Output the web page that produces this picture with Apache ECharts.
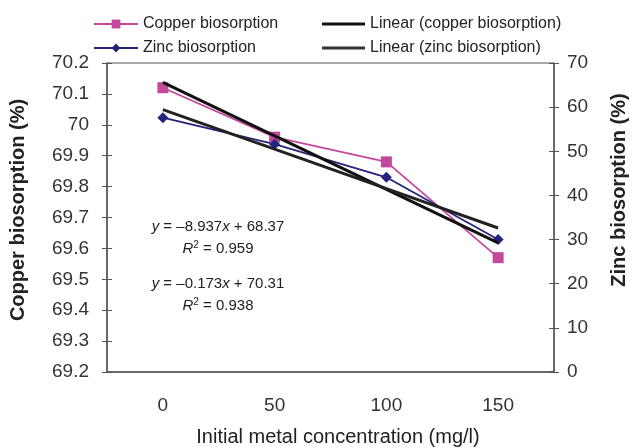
<!DOCTYPE html>
<html>
<head>
<meta charset="utf-8">
<script src="https://cdn.jsdelivr.net/npm/echarts@6/dist/echarts.min.js"></script>
<style>
  html, body { margin: 0; padding: 0; background: #fff; }
  #main { width: 632px; height: 448px; }
</style>
</head>
<body>
<div id="main"></div>
<script>
// concentrations (mg/l)
var categories = ['0', '50', '100', '150'];
// measured biosorption (%)
var copper = [70.12, 69.96, 69.88, 69.57];
var zinc = [57.6, 51.6, 44.1, 30.0];
// linear trend values at each concentration
var copperTrend = [70.137, 69.964, 69.791, 69.618];
var zincTrend = [59.43, 50.50, 41.56, 32.62];
// equation labels
var zincEq = ['y = \u20138.937x + 68.37', 'R2 = 0.959'];
var copperEq = ['y = \u20130.173x + 70.31', 'R2 = 0.938'];

var font = 'Liberation Sans, Arial, sans-serif';
var axisCol = '#555';
var lineIcon = 'path://M0,0L40,0L40,3L0,3Z';

function eqLine1(s) {
  return s.replace(/^y/, '{i|y}').replace('x', '{i|x}');
}
function eqLine2(s) {
  return s.replace(/^R2/, '{i|R}{s|2}');
}
var eqRich = {
  i: { fontStyle: 'italic', fontSize: 15, fontFamily: font },
  s: { fontSize: 10, verticalAlign: 'top', padding: [0, 0, 7, 0], fontFamily: font }
};
function eqGraphic(txt, x, y) {
  return {
    type: 'text', x: x, y: y, z: 10,
    style: {
      text: txt, align: 'center', verticalAlign: 'middle',
      font: '15px ' + font, fill: '#222', rich: eqRich
    }
  };
}
function titleGraphic(txt, x, y, rot, weight) {
  return {
    type: 'text', x: x, y: y, rotation: rot, z: 10,
    style: {
      text: txt, align: 'center', verticalAlign: 'middle',
      font: weight + ' 20px ' + font, fill: '#222'
    }
  };
}

var chart = echarts.init(document.getElementById('main'));

var legendText = { fontFamily: font, fontSize: 16, color: '#222' };
var tickStyle = { length: 5, lineStyle: { color: axisCol } };

chart.setOption({
  animation: false,
  textStyle: { fontFamily: font },
  legend: [
    {
      data: ['Copper biosorption', 'Zinc biosorption'],
      orient: 'vertical', left: 88, top: 11, itemGap: 8,
      itemWidth: 44, itemHeight: 11,
      textStyle: legendText
    },
    {
      data: [
        { name: 'Linear (copper biosorption)', icon: lineIcon },
        { name: 'Linear (zinc biosorption)', icon: lineIcon }
      ],
      orient: 'vertical', left: 317, top: 11, itemGap: 8,
      itemWidth: 43, itemHeight: 11,
      textStyle: legendText
    }
  ],
  grid: {
    left: 107, right: 78, top: 63, bottom: 76,
    show: true, borderColor: axisCol, borderWidth: 1
  },
  xAxis: [
    {
      type: 'category', data: categories, boundaryGap: true,
      axisLine: { lineStyle: { color: axisCol, width: 1.5 } },
      axisTick: tickStyle,
      axisLabel: { fontSize: 19, color: '#333', margin: 24, fontFamily: font }
    },
    {
      type: 'category', data: categories, boundaryGap: true, position: 'bottom',
      axisLine: { show: false },
      axisTick: { inside: true, length: 5, lineStyle: { color: axisCol } },
      axisLabel: { show: false }
    }
  ],
  yAxis: [
    {
      type: 'value', min: 69.2, max: 70.2, interval: 0.1,
      axisLine: { show: true, lineStyle: { color: axisCol, width: 1.5 } },
      axisTick: { show: true, length: 5, lineStyle: { color: axisCol } },
      axisLabel: {
        fontSize: 19, color: '#333', margin: 18, fontFamily: font,
        formatter: function (v) { return String(parseFloat(v.toFixed(1))); }
      },
      splitLine: { show: false }
    },
    {
      type: 'value', min: 0, max: 70, interval: 10, position: 'right',
      axisLine: { show: true, lineStyle: { color: axisCol, width: 1.5 } },
      axisTick: { show: true, length: 5, lineStyle: { color: axisCol } },
      axisLabel: { fontSize: 19, color: '#333', margin: 13, fontFamily: font },
      splitLine: { show: false }
    },
    {
      type: 'value', min: 69.2, max: 70.2, interval: 0.1, position: 'left',
      axisLine: { show: false },
      axisTick: { show: true, inside: true, length: 5, lineStyle: { color: axisCol } },
      axisLabel: { show: false }, splitLine: { show: false }
    },
    {
      type: 'value', min: 0, max: 70, interval: 10, position: 'right',
      axisLine: { show: false },
      axisTick: { show: true, inside: true, length: 5, lineStyle: { color: axisCol } },
      axisLabel: { show: false }, splitLine: { show: false }
    }
  ],
  series: [
    {
      name: 'Copper biosorption', type: 'line', yAxisIndex: 0,
      data: copper, symbol: 'rect', symbolSize: 11,
      lineStyle: { color: '#c4489c', width: 1.8 },
      itemStyle: { color: '#c4489c' }, z: 3
    },
    {
      name: 'Zinc biosorption', type: 'line', yAxisIndex: 1,
      data: zinc, symbol: 'diamond', symbolSize: 11,
      lineStyle: { color: '#24247e', width: 1.8 },
      itemStyle: { color: '#24247e' }, z: 3
    },
    {
      name: 'Linear (copper biosorption)', type: 'line', yAxisIndex: 0,
      data: copperTrend, symbol: 'none',
      lineStyle: { color: '#111', width: 3 },
      itemStyle: { color: '#111' }, z: 4
    },
    {
      name: 'Linear (zinc biosorption)', type: 'line', yAxisIndex: 1,
      data: zincTrend, symbol: 'none',
      lineStyle: { color: '#222', width: 3 },
      itemStyle: { color: '#333' }, z: 4
    }
  ],
  graphic: [
    eqGraphic(eqLine1(zincEq[0]), 218, 227),
    eqGraphic(eqLine2(zincEq[1]), 218, 249),
    eqGraphic(eqLine1(copperEq[0]), 218, 284),
    eqGraphic(eqLine2(copperEq[1]), 218, 306),
    titleGraphic('Copper biosorption (%)', 18, 210, Math.PI / 2, 'bold'),
    titleGraphic('Zinc biosorption (%)', 619, 190, Math.PI / 2, 'bold'),
    titleGraphic('Initial metal concentration (mg/l)', 338, 437, 0, 'normal')
  ]
});
</script>
</body>
</html>
